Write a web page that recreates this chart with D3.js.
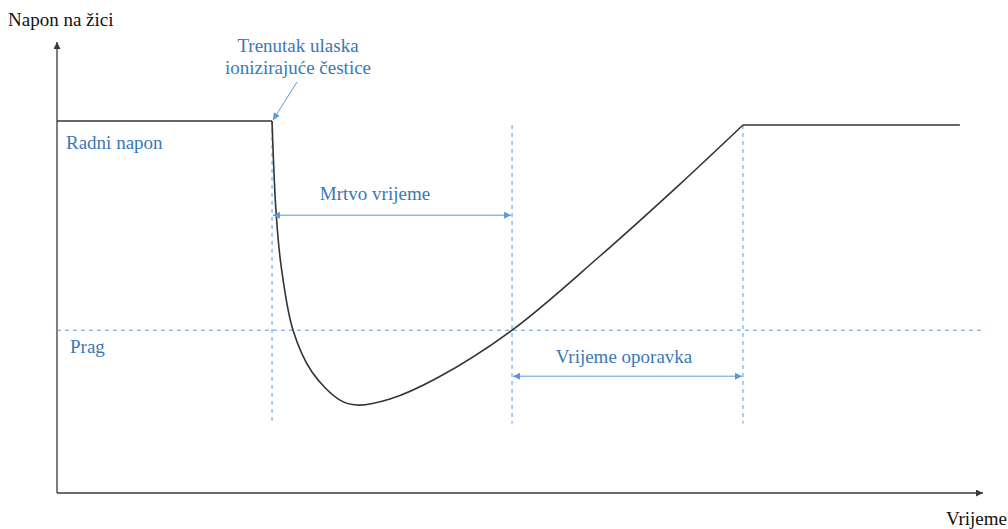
<!DOCTYPE html>
<html>
<head>
<meta charset="utf-8">
<script src="https://cdn.jsdelivr.net/npm/d3@7"></script>
<style>
  body { margin: 0; background: #fff; }
  svg text { font-family: "Liberation Serif", "Times New Roman", serif; font-size: 19px; }
</style>
</head>
<body>
<script>
// wire voltage vs time (arbitrary units, 0..100 on both axes)
const timePts    = [23.22, 23.65, 24.19, 25.49, 27.54, 30.56, 32.40, 35.96, 41.04, 49.14, 58.64, 67.28, 74.08];
const voltagePts = [82.5, 62.5, 50.55, 36.1, 26.83, 20.6, 19.5, 20.84, 25.5, 36.1, 52.55, 68.5, 81.6];

const startTime = 0, endTime = 97.5;
const workingBefore = 82.5, workingAfter = 81.6;
const hitTime = 23.22;       // ionising particle enters
const deadEnd = 49.14;       // end of dead time
const recoveryEnd = 74.08;   // end of recovery
const threshold = 36.1;

const labels = {
  yAxis: "Napon na žici",
  xAxis: "Vrijeme",
  working: "Radni napon",
  threshold: "Prag",
  hit: ["Trenutak ulaska", "ionizirajuće čestice"],
  dead: "Mrtvo vrijeme",
  recovery: "Vrijeme oporavka"
};

const W = 1008, H = 529;
const blue = "#5b9bd5", textBlue = "#3a78b5", axisCol = "#3a3a3a";

const svg = d3.select("body").append("svg")
  .attr("width", W).attr("height", H);

const x = d3.scaleLinear().domain([0, 100]).range([57, 983]);
const y = d3.scaleLinear().domain([0, 100]).range([493, 42]);

// arrow markers
const defs = svg.append("defs");
function marker(id, col, w, h) {
  defs.append("marker")
    .attr("id", id).attr("viewBox", "0 0 10 10")
    .attr("refX", 10).attr("refY", 5)
    .attr("markerUnits", "userSpaceOnUse")
    .attr("markerWidth", w).attr("markerHeight", h)
    .attr("orient", "auto-start-reverse")
    .append("path").attr("d", "M0,0L10,5L0,10Z").attr("fill", col);
}
marker("ax", axisCol, 9, 7);
marker("bl", blue, 10, 7);

// axes
svg.append("line")
  .attr("x1", x(0)).attr("y1", y(0)).attr("x2", x(0)).attr("y2", y(100))
  .attr("stroke", axisCol).attr("stroke-width", 1.3).attr("marker-end", "url(#ax)");
svg.append("line")
  .attr("x1", x(0)).attr("y1", y(0)).attr("x2", x(100)).attr("y2", y(0))
  .attr("stroke", axisCol).attr("stroke-width", 1.3).attr("marker-end", "url(#ax)");

svg.append("text").attr("x", 8).attr("y", 26)
  .attr("fill", "#111").text(labels.yAxis);
svg.append("text").attr("x", 1007).attr("y", 525).attr("text-anchor", "end")
  .attr("fill", "#111").text(labels.xAxis);

// dashed guides
const dash = "4,4";
svg.append("line")
  .attr("x1", x(0)).attr("x2", x(100.2)).attr("y1", y(threshold)).attr("y2", y(threshold))
  .attr("stroke", blue).attr("stroke-width", 1).attr("stroke-dasharray", dash);

[[hitTime, workingBefore], [deadEnd, workingAfter], [recoveryEnd, workingAfter]].forEach(d => {
  svg.append("line")
    .attr("x1", x(d[0])).attr("x2", x(d[0]))
    .attr("y1", y(d[1])).attr("y2", y(15.4))
    .attr("stroke", blue).attr("stroke-width", 1).attr("stroke-dasharray", dash);
});

// curve: flat, recovery shape, flat
const strokeCol = "#333";
const flat = d3.line().x(d => x(d[0])).y(d => y(d[1]));
const smooth = d3.line().x(d => x(d[0])).y(d => y(d[1])).curve(d3.curveCatmullRom.alpha(0.5));
const curvePts = timePts.map((t, i) => [t, voltagePts[i]]);

svg.append("path")
  .datum([[startTime, workingBefore], [hitTime, workingBefore]])
  .attr("fill", "none").attr("stroke", strokeCol).attr("stroke-width", 1.6)
  .attr("d", flat);
svg.append("path")
  .datum(curvePts)
  .attr("fill", "none").attr("stroke", strokeCol).attr("stroke-width", 1.6)
  .attr("d", smooth);
svg.append("path")
  .datum([[recoveryEnd, workingAfter], [endTime, workingAfter]])
  .attr("fill", "none").attr("stroke", strokeCol).attr("stroke-width", 1.6)
  .attr("d", flat);

// span arrows
function span(x0, x1, vy) {
  svg.append("line")
    .attr("x1", x(x0) + 1).attr("x2", x(x1) - 1).attr("y1", y(vy)).attr("y2", y(vy))
    .attr("stroke", blue).attr("stroke-width", 1)
    .attr("marker-start", "url(#bl)").attr("marker-end", "url(#bl)");
}
span(hitTime, deadEnd, 61.6);
span(deadEnd, recoveryEnd, 25.9);

// texts
svg.append("text").attr("x", 66).attr("y", 149)
  .attr("fill", textBlue).text(labels.working);
svg.append("text").attr("x", 70).attr("y", 353)
  .attr("fill", textBlue).text(labels.threshold);
svg.append("text").attr("x", 375).attr("y", 200)
  .attr("text-anchor", "middle").attr("fill", textBlue).text(labels.dead);
svg.append("text").attr("x", 624).attr("y", 363)
  .attr("text-anchor", "middle").attr("fill", textBlue).text(labels.recovery);

labels.hit.forEach((s, i) => {
  svg.append("text").attr("x", 298).attr("y", 52 + i * 22)
    .attr("text-anchor", "middle").attr("fill", textBlue).text(s);
});
svg.append("line")
  .attr("x1", 297).attr("y1", 82).attr("x2", x(hitTime) + 1).attr("y2", y(workingBefore) - 1)
  .attr("stroke", blue).attr("stroke-width", 1).attr("marker-end", "url(#bl)");
</script>
</body>
</html>
